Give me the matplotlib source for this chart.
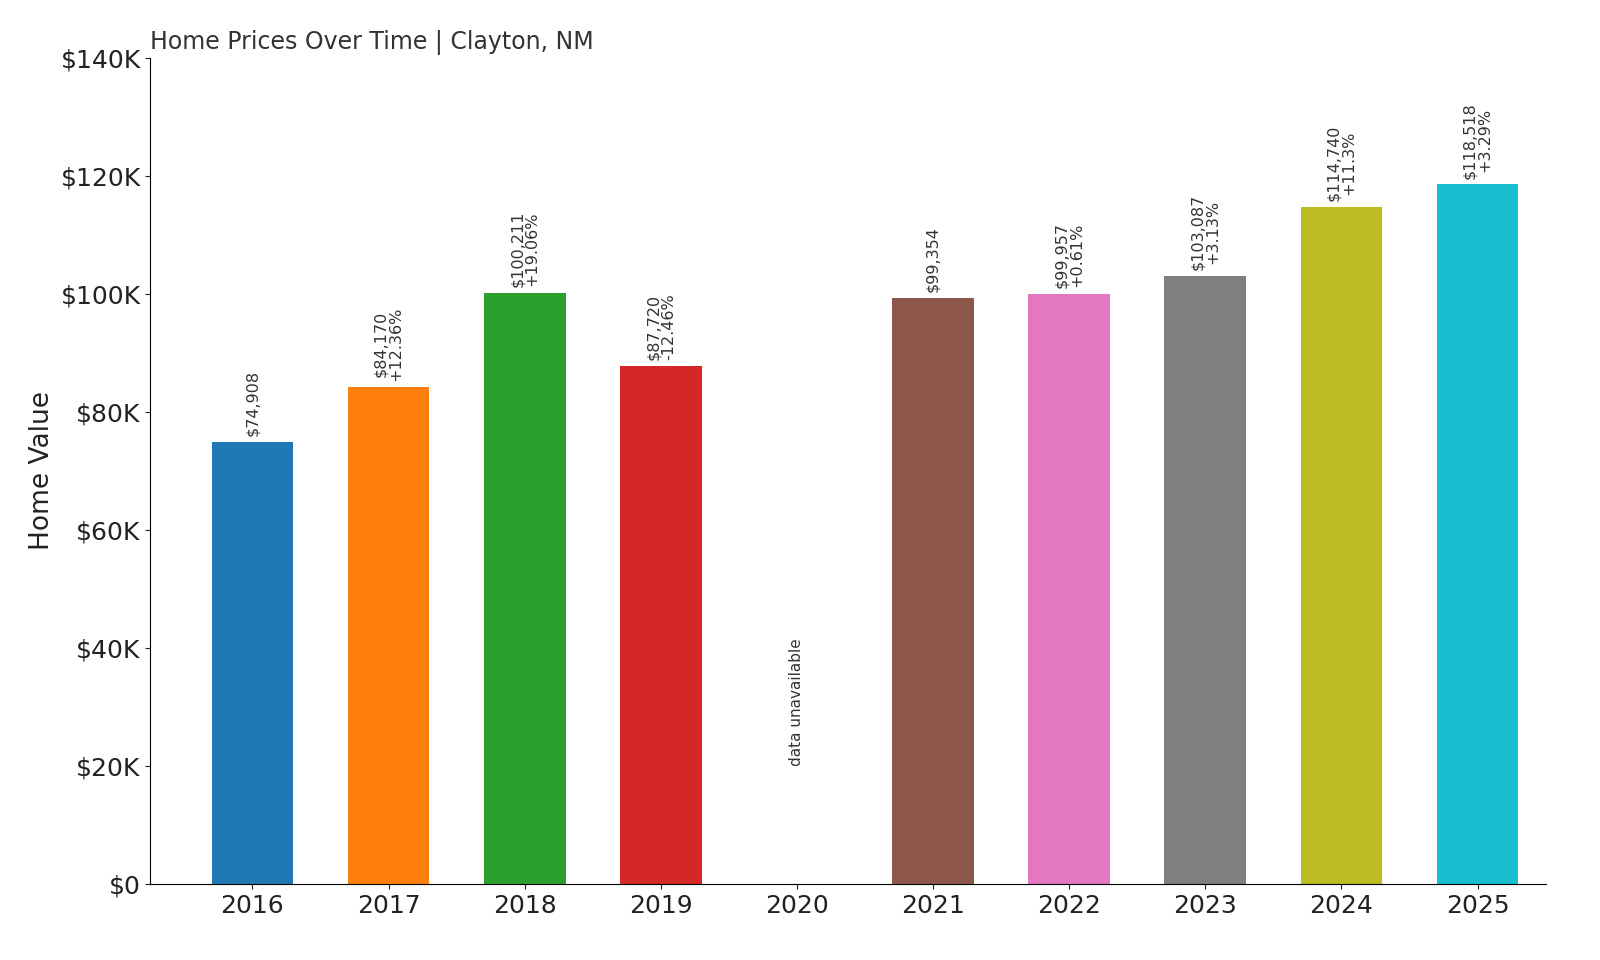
import matplotlib
matplotlib.use("Agg")
import matplotlib.pyplot as plt

years = ["2016", "2017", "2018", "2019", "2020", "2021", "2022", "2023", "2024", "2025"]
values = [74908, 84170, 100211, 87720, None, 99354, 99957, 103087, 114740, 118518]
changes = [None, "+12.36%", "+19.06%", "-12.46%", None, None, "+0.61%", "+3.13%", "+11.3%", "+3.29%"]
colors = ["#1f77b4", "#ff7f0e", "#2ca02c", "#d62728", "#9467bd",
          "#8c564b", "#e377c2", "#7f7f7f", "#bcbd22", "#17becf"]

fig = plt.figure(figsize=(16, 9.6), dpi=100)
ax = fig.add_axes([0.094, 0.079, 0.872, 0.861])

for i, (yr, v, ch) in enumerate(zip(years, values, changes)):
    if v is None:
        ax.text(i, 20000, "data unavailable", rotation=90, ha="center", va="bottom",
                fontsize=11, color="#333")
        continue
    ax.bar(i, v, width=0.6, color=colors[i])
    label = f"${v:,}" if ch is None else f"${v:,}\n{ch}"
    ax.text(i, v + 1000, label, rotation=90, ha="center", va="bottom",
            fontsize=11.5, color="#333", linespacing=1.0)

ax.set_xticks(range(len(years)))
ax.set_xticklabels(years)
ax.set_ylim(0, 140000)
ax.set_xlim(-0.75, 9.5)
ax.set_yticks(range(0, 140001, 20000))
ax.set_yticklabels([f"${t // 1000}K" if t else "$0" for t in range(0, 140001, 20000)])
ax.tick_params(labelsize=18, colors="#222")
ax.set_ylabel("Home Value", fontsize=19, color="#222")
ax.spines["top"].set_visible(False)
ax.spines["right"].set_visible(False)
ax.set_title("Home Prices Over Time | Clayton, NM", loc="left", fontsize=17, color="#333")

fig.savefig("out.png", dpi=100)
